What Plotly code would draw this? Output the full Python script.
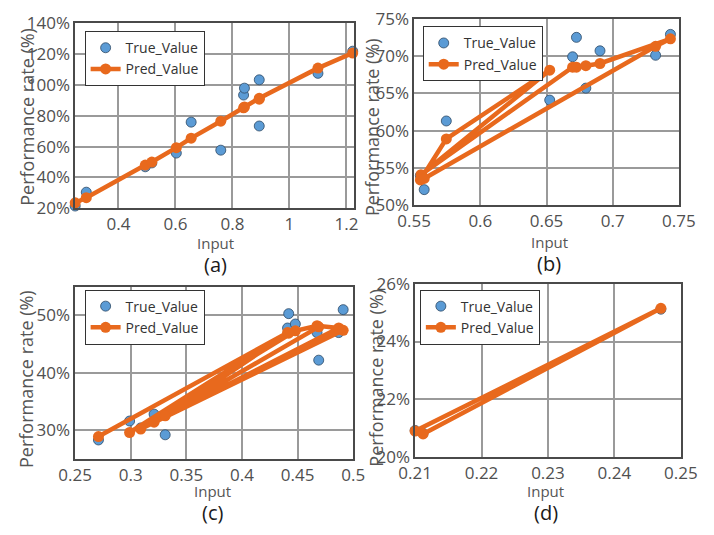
import plotly.graph_objects as go

# ---------------- data ----------------
a_x = [0.248, 0.287, 0.494, 0.517, 0.603, 0.655, 0.759, 0.839, 0.842, 0.894, 0.894, 1.100, 1.222]
a_true = [21.4, 30.4, 46.9, 49.4, 55.8, 75.9, 57.7, 93.5, 98.0, 103.4, 73.4, 107.6, 122.0]
a_pred = [23.5, 26.8, 48.0, 50.0, 59.3, 65.5, 76.5, 85.2, 85.8, 90.8, 91.4, 111.0, 120.8]

b_x = [0.5547, 0.5743, 0.6524, 0.5552, 0.6697, 0.6726, 0.6797, 0.6904, 0.7436, 0.7324, 0.5576]
b_true = [54.0, 61.3, 64.1, 53.6, 69.9, 72.5, 65.7, 70.7, 72.9, 70.1, 52.1]
b_pred = [53.4, 58.9, 68.1, 54.1, 68.5, 68.5, 68.7, 69.0, 72.3, 71.3, 53.6]

c_x = [0.271, 0.441, 0.299, 0.448, 0.4675, 0.487, 0.309, 0.491, 0.321, 0.469, 0.331, 0.442]
c_true = [28.3, 47.8, 31.6, 48.5, 47.0, 47.0, 30.4, 51.0, 32.8, 42.2, 29.2, 50.3]
c_pred = [28.9, 47.0, 29.6, 47.3, 48.2, 47.8, 30.2, 47.4, 31.4, 48.0, 32.5, 46.9]

d_x = [0.2100, 0.2470, 0.2112]
d_true = [20.92, 25.12, 20.82]
d_pred = [20.90, 25.15, 20.80]

panel_labels = ["(a)", "(b)", "(c)", "(d)"]
x_title = "Input"
y_title = "Performance rate (%)"
series_names = ["True_Value", "Pred_Value"]

# ---------------- style ----------------
W, H = 714, 535
FONT = "Open Sans"
BLUE = "#5B9BD5"
BLUE_EDGE = "#2E4A66"
ORANGE = "#E8691D"
GRID = "#9A9A9A"
AXLINE = "#4A4A4A"
TICKC = "#505050"


def px(x):
    return x / W


def py(y):
    return 1 - y / H


panels = [
    dict(x=a_x, t=a_true, p=a_pred, xd=(61, 354), yd=(12, 205), xr=[0.2477, 1.227], yr=[20, 140],
         xdt=0.2, x0=0.4, ydt=20, y0=20, leg=(71, 20), yt=(11, 109), xt=(208, 241), lab=(208, 264)),
    dict(x=b_x, t=b_true, p=b_pred, xd=(417, 695), yd=(7, 202), xr=[0.55, 0.75], yr=[50, 75],
         xdt=0.05, x0=0.55, ydt=5, y0=50, leg=(426, 15), yt=(373, 120), xt=(559, 240), lab=(559, 263)),
    dict(x=c_x, t=c_true, p=c_pred, xd=(61, 353), yd=(287, 467), xr=[0.25, 0.5], yr=[25, 55],
         xdt=0.05, x0=0.25, ydt=10, y0=30, leg=(71, 290), yt=(10, 384), xt=(205, 501), lab=(205, 523)),
    dict(x=d_x, t=d_true, p=d_pred, xd=(418, 697), yd=(284, 465), xr=[0.21, 0.25], yr=[20, 26],
         xdt=0.01, x0=0.21, ydt=2, y0=20, leg=(423, 290), yt=(377, 382), xt=(555, 500), lab=(555, 523)),
]

fig = go.Figure()
layout = dict(
    width=W, height=H, margin=dict(l=0, r=0, t=0, b=0),
    paper_bgcolor="white", plot_bgcolor="white",
    font=dict(family=FONT, color=TICKC),
    annotations=[],
)

for i, pn in enumerate(panels):
    k = "" if i == 0 else str(i + 1)
    xa, ya = "x" + k, "y" + k
    leg = "legend" + k
    fig.add_trace(go.Scatter(
        x=pn["x"], y=pn["t"], mode="markers", name=series_names[0],
        xaxis=xa, yaxis=ya, legend=leg, cliponaxis=False,
        marker=dict(size=10, color=BLUE, line=dict(color=BLUE_EDGE, width=0.8)),
    ))
    fig.add_trace(go.Scatter(
        x=pn["x"], y=pn["p"], mode="lines+markers", name=series_names[1],
        xaxis=xa, yaxis=ya, legend=leg, cliponaxis=False,
        line=dict(color=ORANGE, width=4.5),
        marker=dict(size=11, color=ORANGE),
    ))
    common = dict(showgrid=True, gridcolor=GRID, gridwidth=1.5, zeroline=False,
                  showline=True, mirror=True, linecolor=AXLINE, linewidth=1.5,
                  ticks="", tickfont=dict(family=FONT, size=17, color=TICKC))
    layout["xaxis" + k] = dict(
        domain=[px(pn["xd"][0]), px(pn["xd"][1])], range=pn["xr"], anchor=ya,
        tick0=pn["x0"], dtick=pn["xdt"], ticklabelstandoff=0, **common)
    layout["yaxis" + k] = dict(
        domain=[py(pn["yd"][1]), py(pn["yd"][0])], range=pn["yr"], anchor=xa,
        tick0=pn["y0"], dtick=pn["ydt"], ticksuffix="%", ticklabelstandoff=0, **common)
    layout[leg] = dict(
        x=px(pn["leg"][0]), y=py(pn["leg"][1]), xanchor="left", yanchor="top",
        bgcolor="white", bordercolor="#333333", borderwidth=1,
        font=dict(family=FONT, size=14, color="#333333"), tracegroupgap=0,
    )
    layout["annotations"] += [
        dict(text=y_title, x=px(pn["yt"][0]), y=py(pn["yt"][1]), xref="paper", yref="paper",
             textangle=-90, showarrow=False, xanchor="center", yanchor="middle",
             font=dict(family=FONT, size=18, color="#555555")),
        dict(text=x_title, x=px(pn["xt"][0]), y=py(pn["xt"][1]), xref="paper", yref="paper",
             showarrow=False, xanchor="center", yanchor="middle", borderpad=0,
             font=dict(family=FONT, size=15, color="#555555")),
        dict(text=panel_labels[i], x=px(pn["lab"][0]), y=py(pn["lab"][1]), xref="paper", yref="paper",
             showarrow=False, xanchor="center", yanchor="middle", borderpad=0,
             font=dict(family=FONT, size=20, color="#1A1A1A")),
    ]

fig.update_layout(**layout)
fig.write_html("out.html")
